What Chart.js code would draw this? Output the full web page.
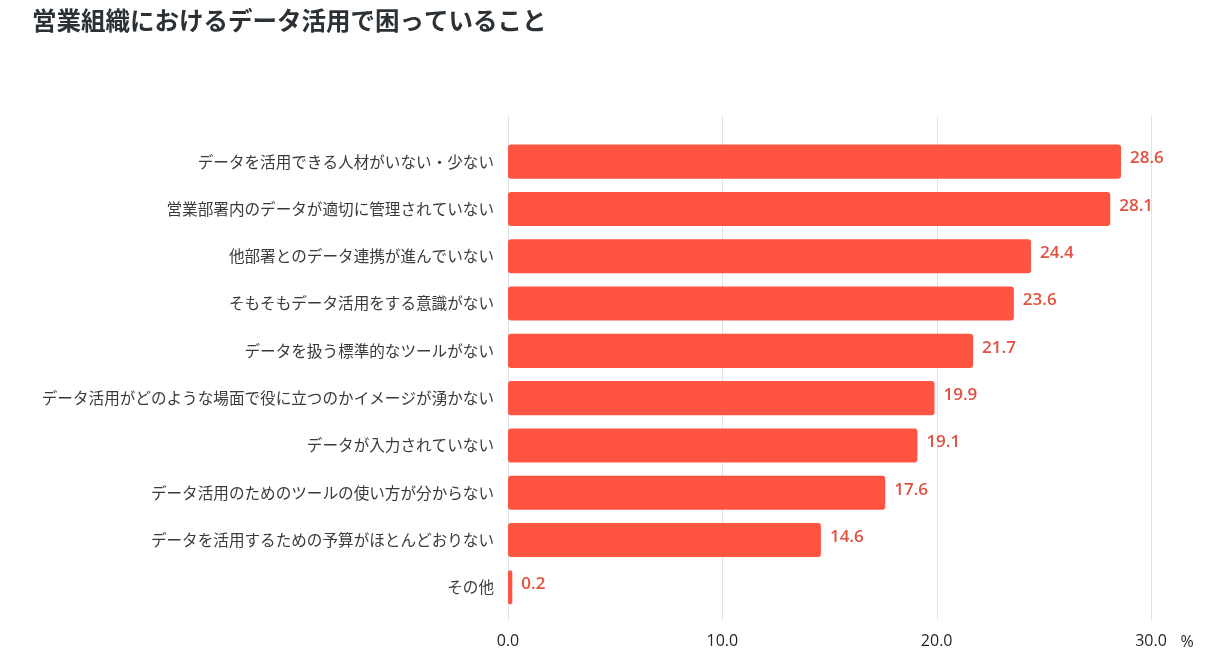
<!DOCTYPE html>
<html><head><meta charset="utf-8">
<script src="https://cdn.jsdelivr.net/npm/chart.js@4"></script>
<style>html,body{margin:0;padding:0;background:#fff}#wrap{width:1220px;height:670px;position:relative}</style>
</head><body><div id="wrap"><canvas id="c"></canvas></div>
<script>
const titleText = '営業組織におけるデータ活用で困っていること';
const categories = [
  'データを活用できる人材がいない・少ない',
  '営業部署内のデータが適切に管理されていない',
  '他部署とのデータ連携が進んでいない',
  'そもそもデータ活用をする意識がない',
  'データを扱う標準的なツールがない',
  'データ活用がどのような場面で役に立つのかイメージが湧かない',
  'データが入力されていない',
  'データ活用のためのツールの使い方が分からない',
  'データを活用するための予算がほとんどおりない',
  'その他'
];
const values = [28.6, 28.1, 24.4, 23.6, 21.7, 19.9, 19.1, 17.6, 14.6, 0.2];
const xTicks = [0, 10, 20, 30];
const unitLabel = '%';

const JP = '"Noto Sans CJK JP", "Noto Sans", sans-serif';
const NUM = '"Open Sans", "Noto Sans", sans-serif';

const gridPlugin = {
  id: 'customGrid',
  beforeDatasetsDraw(chart) {
    const {ctx, chartArea, scales} = chart;
    ctx.save();
    ctx.strokeStyle = '#dde2e5';
    ctx.lineWidth = 1;
    xTicks.forEach(v => {
      const x = Math.round(scales.x.getPixelForValue(v)) + 0.5;
      ctx.beginPath();
      ctx.moveTo(x, chartArea.top - 22);
      ctx.lineTo(x, chartArea.bottom + 9);
      ctx.stroke();
    });
    ctx.restore();
  }
};

const labelPlugin = {
  id: 'valueLabels',
  afterDatasetsDraw(chart) {
    const {ctx} = chart;
    const meta = chart.getDatasetMeta(0);
    ctx.save();
    ctx.font = '600 17px ' + NUM;
    ctx.fillStyle = '#e2503f';
    ctx.textAlign = 'left';
    ctx.textBaseline = 'middle';
    meta.data.forEach((bar, i) => {
      ctx.fillText(values[i].toFixed(1), bar.x + 9, bar.y - 3);
    });
    ctx.restore();
  },
  afterDraw(chart) {
    const {ctx, chartArea, scales} = chart;
    ctx.save();
    ctx.font = 'bold 24.5px ' + JP;
    ctx.fillStyle = '#2c3136';
    ctx.textAlign = 'left';
    ctx.textBaseline = 'middle';
    ctx.fillText(titleText, 32, 21);
    ctx.font = '16px ' + NUM;
    ctx.fillStyle = '#1f2326';
    ctx.textAlign = 'center';
    ctx.fillText(unitLabel, scales.x.getPixelForValue(xTicks[xTicks.length - 1]) + 36, chartArea.bottom + 31);
    ctx.restore();
  }
};

new Chart(document.getElementById('c'), {
  type: 'bar',
  data: {
    labels: categories,
    datasets: [{
      data: values,
      backgroundColor: '#ff5442',
      borderRadius: 3,
      borderSkipped: false,
      categoryPercentage: 0.8,
      barPercentage: 0.9
    }]
  },
  options: {
    indexAxis: 'y',
    responsive: true,
    maintainAspectRatio: false,
    animation: false,
    layout: {padding: {top: 138, right: 69, bottom: 0, left: 0}},
    plugins: {legend: {display: false}, tooltip: {enabled: false}, title: {display: false}},
    scales: {
      y: {
        grid: {display: false, drawTicks: false},
        border: {display: false},
        ticks: {font: {family: JP, size: 15.6}, color: '#3a3a3a', padding: 14},
        afterFit(s) { s.width = 508; }
      },
      x: {
        min: 0, max: 30,
        afterBuildTicks(s) { s.ticks = xTicks.map(v => ({value: v})); },
        grid: {display: false, drawTicks: false},
        border: {display: false},
        ticks: {font: {family: NUM, size: 16}, color: '#1f2326', padding: 21, maxRotation: 0,
          callback: v => Number(v).toFixed(1)},
        afterFit(s) { s.height = 59; }
      }
    }
  },
  plugins: [gridPlugin, labelPlugin]
});
</script>
</body></html>
